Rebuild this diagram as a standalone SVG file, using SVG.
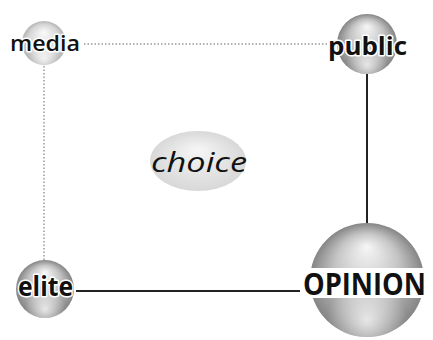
<svg xmlns="http://www.w3.org/2000/svg" width="433" height="340" viewBox="0 0 433 340">
<style>
.lbl{font-family:"Open Sans","Noto Sans",sans-serif;fill:#111}
.b{font-weight:bold}
.halo{stroke:#fff;stroke-width:3;paint-order:stroke;stroke-linejoin:round}
.dot{stroke:#999;stroke-width:1.5;stroke-dasharray:1.5 2;fill:none}
.solid{stroke:#222;stroke-width:2;fill:none}
</style>
<defs>
<radialGradient id="sph" cx="50%" cy="50%" r="50%" fx="50%" fy="20%">
<stop offset="0" stop-color="#f6f6f6"/>
<stop offset="0.55" stop-color="#c4c4c4"/>
<stop offset="1" stop-color="#858585"/>
</radialGradient>
<radialGradient id="glow" cx="50%" cy="85%" r="35%">
<stop offset="0" stop-color="#fff" stop-opacity="0.75"/>
<stop offset="1" stop-color="#fff" stop-opacity="0"/>
</radialGradient>
<radialGradient id="sphL" cx="50%" cy="50%" r="50%" fx="50%" fy="25%">
<stop offset="0" stop-color="#fafafa"/>
<stop offset="0.7" stop-color="#d6d6d6"/>
<stop offset="1" stop-color="#b4b4b4"/>
</radialGradient>
<radialGradient id="ell" cx="50%" cy="50%" r="50%" fx="50%" fy="30%">
<stop offset="0" stop-color="#f6f6f6"/>
<stop offset="1" stop-color="#d8d8d8"/>
</radialGradient>
</defs>
<rect width="433" height="340" fill="#fff"/>
<g id="connectors">
<line class="dot" x1="84" y1="44" x2="330" y2="44"/>
<line class="dot" x1="44" y1="66" x2="44" y2="262"/>
<line class="solid" x1="367" y1="74" x2="367" y2="224"/>
<line class="solid" x1="76" y1="291" x2="302" y2="291"/>
</g>
<g id="media">
<circle cx="44" cy="43" r="22" fill="url(#sphL)"/>
<circle cx="44" cy="43" r="22" fill="url(#glow)"/>
<text class="lbl halo" x="10" y="51" font-size="22" font-weight="600" textLength="70" lengthAdjust="spacingAndGlyphs">media</text>
</g>
<g id="public">
<circle cx="367" cy="44" r="30" fill="url(#sph)"/>
<circle cx="367" cy="44" r="30" fill="url(#glow)"/>
<text class="lbl b halo" x="328" y="55" font-size="25" textLength="79" lengthAdjust="spacingAndGlyphs">public</text>
</g>
<g id="choice">
<ellipse cx="198" cy="161" rx="48" ry="30" fill="url(#ell)"/>
<text class="lbl" x="151" y="172" font-size="28" font-style="italic" textLength="96" lengthAdjust="spacingAndGlyphs">choice</text>
</g>
<g id="elite">
<circle cx="45" cy="289" r="29" fill="url(#sph)"/>
<circle cx="45" cy="289" r="29" fill="url(#glow)"/>
<text class="lbl b halo" x="18" y="296" font-size="26" textLength="55" lengthAdjust="spacingAndGlyphs">elite</text>
</g>
<g id="opinion">
<circle cx="367" cy="280" r="57" fill="url(#sph)"/>
<circle cx="367" cy="280" r="57" fill="url(#glow)"/>
<rect x="300" y="268" width="133" height="30" fill="#fff"/>
<text class="lbl b" transform="translate(303,295) scale(0.88,1)" font-size="31">OPINION</text>
</g>
</svg>
